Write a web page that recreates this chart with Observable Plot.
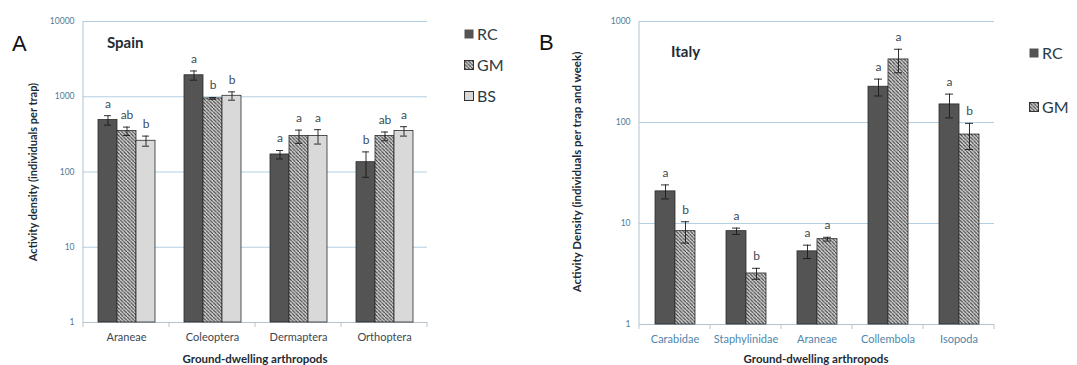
<!DOCTYPE html>
<html><head><meta charset="utf-8">
<script src="https://cdn.jsdelivr.net/npm/d3@7"></script>
<script src="https://cdn.jsdelivr.net/npm/@observablehq/plot@0.6"></script>
<style>
body{margin:0;background:#fff;font-family:Lato,"Open Sans",sans-serif;}
#wrap{position:relative;width:1077px;height:365px;overflow:hidden;background:#fff;}
.panel{position:absolute;top:0;}
.ov{position:absolute;white-space:nowrap;line-height:1;}
.rot{transform:translate(-50%,-50%) rotate(-90deg);}
.xt{transform:translate(-50%,-50%);}
.lg{position:absolute;display:flex;align-items:center;font-size:16px;color:#2c3a44;line-height:1;transform:translateY(-50%);}
.lg svg{margin-right:3px;}
</style></head><body>
<svg width="0" height="0" style="position:absolute"><defs>
<pattern id="hatch" patternUnits="userSpaceOnUse" width="3.6" height="3.6">
<rect width="3.6" height="3.6" fill="#d4d4d4"/>
<path d="M-0.9,-0.9L0.9,0.9M0,0L3.6,3.6M2.7,2.7L4.5,4.5" stroke="#333" stroke-width="1.1"/>
</pattern></defs></svg>
<div id="wrap"></div>
<script>
// ---------- Panel A: Spain ----------
const spainCategories = ["Araneae", "Coleoptera", "Dermaptera", "Orthoptera"];
const spainSeries = ["RC", "GM", "BS"];
const spainRC = [490, 1930, 171, 135];
const spainGM = [350, 950, 300, 300];
const spainBS = [260, 1030, 300, 350];
const spainRCse = [70, 270, 22, 50];
const spainGMse = [45, 25, 60, 40];
const spainBSse = [40, 130, 65, 50];
const spainRCletters = ["a", "a", "a", "b"];
const spainGMletters = ["ab", "b", "a", "ab"];
const spainBSletters = ["b", "b", "a", "a"];
const spainYTicks = [1, 10, 100, 1000, 10000];

// ---------- Panel B: Italy ----------
const italyCategories = ["Carabidae", "Staphylinidae", "Araneae", "Collembola", "Isopoda"];
const italySeries = ["RC", "GM"];
const italyRC = [20.8, 8.4, 5.3, 226, 151];
const italyGM = [8.4, 3.2, 7.0, 421, 76];
const italyRCse = [3.3, 0.6, 0.8, 43, 40];
const italyGMse = [2.0, 0.4, 0.3, 110, 22];
const italyRCletters = ["a", "a", "a", "a", "a"];
const italyGMletters = ["b", "b", "a", "a", "b"];
const italyYTicks = [1, 10, 100, 1000];

const xTitle = "Ground-dwelling arthropods";
const spainYTitle = "Activity density (individuals per trap)";
const italyYTitle = "Activity Density (individuals per trap and week)";

const seriesFill = {RC: "#545454", GM: "url(#hatch)", BS: "#d9d9d9"};

function buildRows(cats, series, means, ses, letters) {
  const rows = [];
  cats.forEach((c, i) => series.forEach((s, j) => {
    rows.push({cat: c, series: s, value: means[j][i], se: ses[j][i], letter: letters[j][i]});
  }));
  return rows;
}

const spainData = buildRows(spainCategories, spainSeries,
  [spainRC, spainGM, spainBS], [spainRCse, spainGMse, spainBSse],
  [spainRCletters, spainGMletters, spainBSletters]);
const italyData = buildRows(italyCategories, italySeries,
  [italyRC, italyGM], [italyRCse, italyGMse], [italyRCletters, italyGMletters]);

function panel(o) {
  const {cats, series, data, ticks, width, ml, mr, mt, mb, po, xTickColor} = o;
  const plot = Plot.plot({
    width, height: 365,
    marginLeft: ml, marginRight: mr, marginTop: mt, marginBottom: mb,
    style: {fontFamily: "Lato, sans-serif", background: "transparent", overflow: "visible"},
    fx: {domain: cats, padding: 0, axis: null},
    x: {domain: series, paddingInner: 0, paddingOuter: po, axis: null},
    y: {type: "log", domain: [ticks[0], ticks[ticks.length - 1]], axis: null},
    color: {domain: series, range: series.map(s => seriesFill[s])},
    marks: [
      Plot.ruleY(ticks.slice(1), {stroke: "#b3d0e3", strokeWidth: 1}),
      Plot.ruleY([ticks[0]], {stroke: "#b4c3ce", strokeWidth: 1}),
      Plot.barY(data, {fx: "cat", x: "series", y1: ticks[0], y2: "value", fill: "series", stroke: "#2b2b2b", strokeWidth: 0.8}),
      Plot.ruleX(data, {fx: "cat", x: "series", y1: d => d.value - d.se, y2: d => d.value + d.se, stroke: "#1a1a1a", strokeWidth: 0.9}),
      Plot.tickY(data, {fx: "cat", x: "series", y: d => d.value + d.se, insetLeft: 6, insetRight: 6, stroke: "#1a1a1a", strokeWidth: 0.9}),
      Plot.tickY(data, {fx: "cat", x: "series", y: d => d.value - d.se, insetLeft: 6, insetRight: 6, stroke: "#1a1a1a", strokeWidth: 0.9}),
      Plot.text(data, {fx: "cat", x: "series", y: d => d.value + d.se, text: "letter", dy: -12, fontSize: 12, fill: "#3d4a55"}),
      Plot.axisY({ticks, tickFormat: d => `${d}`, tickSize: 0, tickPadding: 9, fontSize: 8.5, color: "#4f7a96", label: null}),
      Plot.axisFx({anchor: "bottom", tickSize: 0, tickPadding: 11, fontSize: 11, color: xTickColor, label: null})
    ]
  });
  // axis line and category boundary ticks, from the plot's own scales
  const fx = plot.scale("fx"), y = plot.scale("y");
  const [yb, yt] = y.range;
  const svg = d3.select(plot);
  const g = svg.append("g").attr("stroke", "#b4c3ce").attr("stroke-width", 1);
  const x0 = fx.apply(cats[0]);
  g.append("line").attr("x1", x0).attr("x2", x0).attr("y1", yt).attr("y2", yb);
  const bounds = cats.map(c => fx.apply(c)).concat([fx.apply(cats[cats.length - 1]) + fx.bandwidth]);
  bounds.forEach(b => g.append("line").attr("x1", b).attr("x2", b).attr("y1", yb).attr("y2", yb + 5));
  return plot;
}

const wrap = document.getElementById("wrap");
function place(el, left) {
  const d = document.createElement("div");
  d.className = "panel"; d.style.left = left + "px";
  d.appendChild(el); wrap.appendChild(d);
}
place(panel({cats: spainCategories, series: spainSeries, data: spainData, ticks: spainYTicks,
  width: 540, ml: 82, mr: 112, mt: 21, mb: 43, po: 0.74, xTickColor: "#3b4852"}), 0);
place(panel({cats: italyCategories, series: italySeries, data: italyData, ticks: italyYTicks,
  width: 537, ml: 97, mr: 82, mt: 21, mb: 41, po: 0.75, xTickColor: "#4f86ab"}), 540);

function ov(text, left, top, css, cls) {
  const d = document.createElement("div");
  d.className = "ov" + (cls ? " " + cls : "");
  d.textContent = text;
  d.style.left = left + "px"; d.style.top = top + "px";
  Object.assign(d.style, css || {});
  wrap.appendChild(d);
}
ov("A", 12, 33, {fontSize: "22px", color: "#111", fontFamily: "Liberation Sans, Arial, sans-serif"});
ov("B", 539, 32, {fontSize: "22px", color: "#111", fontFamily: "Liberation Sans, Arial, sans-serif"});
ov("Spain", 107, 35, {fontSize: "15px", fontWeight: "bold", color: "#1d2b35"});
ov("Italy", 671, 44, {fontSize: "15px", fontWeight: "bold", color: "#1d2b35"});
ov(spainYTitle, 32, 172, {fontSize: "11px", fontWeight: "bold", color: "#1d2b35"}, "rot");
ov(italyYTitle, 577, 172, {fontSize: "11.5px", fontWeight: "bold", color: "#1d2b35"}, "rot");
ov(xTitle, 255, 359, {fontSize: "11.5px", fontWeight: "bold", color: "#1d2b35"}, "xt");
ov(xTitle, 816, 359, {fontSize: "11.5px", fontWeight: "bold", color: "#1d2b35"}, "xt");

function legend(series, left, tops) {
  series.forEach((s, i) => {
    const d = document.createElement("div");
    d.className = "lg";
    d.style.left = left + "px"; d.style.top = tops[i] + "px";
    d.innerHTML = `<svg width="10" height="10"><rect x="0.5" y="0.5" width="9" height="9" fill="${seriesFill[s]}" stroke="${s === "RC" ? "none" : "#333"}" stroke-width="1"/></svg>`;
    const t = document.createElement("span"); t.textContent = s;
    d.appendChild(t); wrap.appendChild(d);
  });
}
legend(spainSeries, 464, [34, 65, 96]);
legend(italySeries, 1029, [53, 107]);
</script>
</body></html>
